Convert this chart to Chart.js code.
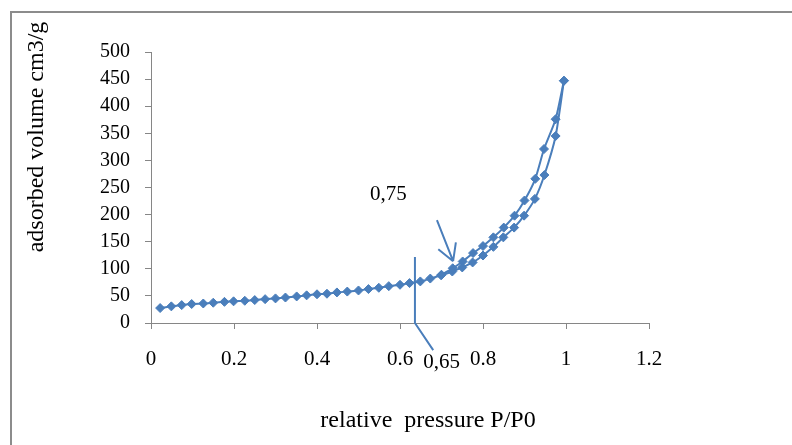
<!DOCTYPE html>
<html>
<head>
<meta charset="utf-8">
<script src="https://cdn.jsdelivr.net/npm/chart.js@4.4.1/dist/chart.umd.min.js"></script>
<style>
    html, body { margin: 0; padding: 0; background: #fff; overflow: hidden; }
    #wrap { position: relative; width: 792px; height: 445px; }
    #frame { position: absolute; left: 10px; top: 11px; width: 800px; height: 500px; border: 2px solid #8c8c8c; box-sizing: border-box; }
    canvas { position: absolute; left: 0; top: 0; }
</style>
</head>
<body>
<div id="wrap">
    <div id="frame"></div>
    <canvas id="isoChart" width="792" height="445"></canvas>
</div>
<script>
// adsorption branch (P/P0, cm3/g)
const adsPressure = [0.022, 0.049, 0.074, 0.098, 0.126, 0.150, 0.177, 0.199, 0.226, 0.250,
    0.275, 0.300, 0.324, 0.351, 0.375, 0.400, 0.424, 0.448, 0.473, 0.500,
    0.524, 0.549, 0.573, 0.600, 0.623, 0.649, 0.673, 0.699, 0.726, 0.750,
    0.775, 0.800, 0.825, 0.849, 0.875, 0.899, 0.925, 0.948, 0.975, 0.995];
const adsVolume = [27.6, 30.7, 33, 35, 36, 37.4, 39, 40, 41, 42.3,
    44, 45.4, 47, 49, 51, 53, 54, 56.4, 58, 60,
    62.6, 65, 68, 70.5, 73.6, 76.7, 82, 88, 95, 102.5,
    111.7, 124.5, 140.5, 158, 176, 198, 229, 273, 345, 447];

// desorption branch
const desPressure = [0.995, 0.975, 0.947, 0.926, 0.900, 0.876, 0.850, 0.825, 0.800, 0.776, 0.751, 0.727, 0.700];
const desVolume = [447, 376, 321, 266, 226, 198, 176, 158, 142, 129, 113.5, 101, 89];

const xTicks = [0, 0.2, 0.4, 0.6, 0.8, 1, 1.2];
const yTicks = [0, 50, 100, 150, 200, 250, 300, 350, 400, 450, 500];

const blue = '#4a7ebb';
const axisGray = '#868686';
const serif = '"Liberation Serif", "Times New Roman", serif';

function toPoints(xs, ys) {
    return xs.map((x, i) => ({ x: x, y: ys[i] }));
}

// annotations in data units: marker line at 0,65 and arrow at 0,75
const notes = {
    vline: [[0.636, 122], [0.636, 0], [0.68, -50]],
    arrow: [[0.689, 190], [0.728, 114]],
    labels: [
        { text: '0,75', x: 0.572, y: 237 },
        { text: '0,65', x: 0.700, y: -72 }
    ]
};

const overlay = {
    id: 'overlay',
    afterDatasetsDraw(chart) {
        const ctx = chart.ctx;
        const xs = chart.scales.x, ys = chart.scales.y;
        const px = p => [xs.getPixelForValue(p[0]), ys.getPixelForValue(p[1])];
        ctx.save();
        ctx.strokeStyle = blue;
        ctx.lineWidth = 2;
        ctx.beginPath();
        notes.vline.forEach((p, i) => {
            const q = px(p);
            if (i === 0) ctx.moveTo(q[0], q[1]); else ctx.lineTo(q[0], q[1]);
        });
        ctx.stroke();

        const a = px(notes.arrow[0]), b = px(notes.arrow[1]);
        const ang = Math.atan2(b[1] - a[1], b[0] - a[0]);
        ctx.beginPath();
        ctx.moveTo(a[0], a[1]);
        ctx.lineTo(b[0], b[1]);
        [-0.52, 0.52].forEach(d => {
            ctx.moveTo(b[0], b[1]);
            ctx.lineTo(b[0] - 19 * Math.cos(ang + d), b[1] - 19 * Math.sin(ang + d));
        });
        ctx.stroke();

        ctx.fillStyle = '#000';
        ctx.font = '21px ' + serif;
        ctx.textAlign = 'center';
        ctx.textBaseline = 'middle';
        notes.labels.forEach(l => {
            const q = px([l.x, l.y]);
            ctx.fillText(l.text, q[0], q[1]);
        });

        // axis titles
        ctx.font = '24px ' + serif;
        ctx.fillText('relative  pressure P/P0', 428, 421);
        ctx.translate(37, 137);
        ctx.rotate(-Math.PI / 2);
        ctx.fillText('adsorbed volume cm3/g', 0, 0);
        ctx.restore();
    }
};

const config = {
    type: 'scatter',
    data: {
        datasets: [{
            label: 'adsorption',
            data: toPoints(adsPressure, adsVolume),
            showLine: true,
            borderColor: blue,
            backgroundColor: blue,
            borderWidth: 2,
            tension: 0.2,
            pointStyle: 'rectRot',
            pointRadius: 4.5,
            pointBorderWidth: 1
        }, {
            label: 'desorption',
            data: toPoints(desPressure, desVolume),
            showLine: true,
            borderColor: blue,
            backgroundColor: blue,
            borderWidth: 2,
            tension: 0.2,
            pointStyle: 'rectRot',
            pointRadius: 4.5,
            pointBorderWidth: 1
        }]
    },
    options: {
        responsive: false,
        animation: false,
        layout: { padding: { top: 52, right: 143, left: 0, bottom: 0 } },
        scales: {
            x: {
                type: 'linear',
                min: 0,
                max: 1.2,
                afterFit: s => { s.height = 122; },
                afterBuildTicks: s => { s.ticks = xTicks.map(v => ({ value: v })); },
                border: { color: axisGray, width: 1 },
                grid: { drawOnChartArea: false, color: axisGray, tickLength: 6 },
                ticks: {
                    color: '#000',
                    padding: 18,
                    autoSkip: false,
                    maxRotation: 0,
                    font: { family: serif, size: 21 },
                    callback: v => String(Number(v.toFixed(1)))
                }
            },
            y: {
                type: 'linear',
                min: 0,
                max: 500,
                afterFit: s => { s.width = 151; },
                afterBuildTicks: s => { s.ticks = yTicks.map(v => ({ value: v })); },
                border: { color: axisGray, width: 1 },
                grid: { drawOnChartArea: false, color: axisGray, tickLength: 6 },
                ticks: {
                    color: '#000',
                    padding: 15,
                    autoSkip: false,
                    font: { family: serif, size: 20 }
                }
            }
        },
        plugins: {
            legend: { display: false },
            tooltip: { enabled: false }
        }
    },
    plugins: [overlay]
};

new Chart(document.getElementById('isoChart'), config);
</script>
</body>
</html>
